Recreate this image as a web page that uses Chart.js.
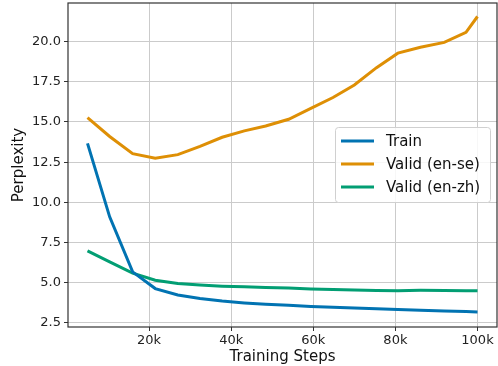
<!DOCTYPE html>
<html>
<head>
<meta charset="utf-8">
<script src="https://cdn.jsdelivr.net/npm/chart.js@4/dist/chart.umd.min.js"></script>
<style>
  body { margin: 0; background: #fff; }
</style>
</head>
<body>
<canvas id="myChart" width="498" height="366"></canvas>
<script>
// training steps (x) where each curve was sampled
const steps = [5000, 10400, 16000, 21500, 27000, 32400, 37800, 43200, 48400, 54000,
               59400, 64800, 70000, 75400, 80600, 86100, 91900, 97200, 100000];
const trainPpl = [13.67, 9.1, 5.68, 4.64, 4.24, 4.02, 3.86, 3.75, 3.67, 3.6,
                  3.53, 3.48, 3.43, 3.38, 3.34, 3.29, 3.25, 3.21, 3.19];
const validEnSe = [15.27, 14.1, 13.03, 12.74, 12.97, 13.48, 14.05, 14.45, 14.75, 15.17,
                   15.85, 16.52, 17.3, 18.38, 19.28, 19.65, 19.95, 20.58, 21.56];
const validEnZh = [6.99, 6.3, 5.6, 5.16, 4.96, 4.86, 4.79, 4.75, 4.71, 4.67,
                   4.62, 4.58, 4.55, 4.52, 4.51, 4.53, 4.52, 4.51, 4.5];
const xTicks = [20000, 40000, 60000, 80000, 100000];
const yTicks = [2.5, 5.0, 7.5, 10.0, 12.5, 15.0, 17.5, 20.0];

const font = 'DejaVu Sans';

function toPoints(ys) {
  return ys.map((y, i) => ({ x: steps[i], y: y }));
}

// frame on all four sides, like matplotlib
const framePlugin = {
  id: 'frame',
  afterDraw(chart) {
    const a = chart.chartArea, ctx = chart.ctx;
    ctx.save();
    ctx.strokeStyle = '#333';
    ctx.lineWidth = 1.2;
    ctx.strokeRect(a.left, a.top, a.right - a.left, a.bottom - a.top);
    ctx.restore();
  }
};

// legend drawn inside the plot area
const legendPlugin = {
  id: 'insideLegend',
  afterDraw(chart) {
    const ctx = chart.ctx;
    const x0 = 335, y0 = 127, w = 155, h = 75;
    ctx.save();
    ctx.fillStyle = 'rgba(255,255,255,0.85)';
    ctx.strokeStyle = '#d0d0d0';
    ctx.lineWidth = 1;
    ctx.beginPath();
    ctx.roundRect(x0 + 0.5, y0 + 0.5, w, h, 3);
    ctx.fill();
    ctx.stroke();
    ctx.font = '15px "' + font + '"';
    ctx.textBaseline = 'middle';
    chart.data.datasets.forEach((ds, i) => {
      const y = y0 + 14 + i * 23;
      ctx.strokeStyle = ds.borderColor;
      ctx.lineWidth = 3;
      ctx.beginPath();
      ctx.moveTo(341, y);
      ctx.lineTo(374, y);
      ctx.stroke();
      ctx.fillStyle = '#111';
      ctx.fillText(ds.label, 386, y + 1);
    });
    ctx.restore();
  }
};

const ctx = document.getElementById('myChart').getContext('2d');
new Chart(ctx, {
  type: 'line',
  data: {
    datasets: [
      { label: 'Train', data: toPoints(trainPpl), borderColor: '#0173B2' },
      { label: 'Valid (en-se)', data: toPoints(validEnSe), borderColor: '#DE8F05' },
      { label: 'Valid (en-zh)', data: toPoints(validEnZh), borderColor: '#029E73' }
    ]
  },
  options: {
    responsive: false,
    animation: false,
    layout: { padding: { top: 3, right: 1, left: 0, bottom: 0 } },
    elements: {
      line: { borderWidth: 3, tension: 0, fill: false },
      point: { radius: 0 }
    },
    plugins: {
      legend: { display: false },
      tooltip: { enabled: false }
    },
    scales: {
      x: {
        type: 'linear',
        min: 250,
        max: 104750,
        afterBuildTicks: s => { s.ticks = xTicks.map(v => ({ value: v })); },
        afterFit: s => { s.height = 39; s.paddingLeft = 0; s.paddingRight = 0; },
        ticks: {
          color: '#222',
          font: { family: font, size: 13 },
          padding: 2,
          maxRotation: 0,
          callback: v => (v / 1000) + 'k'
        },
        grid: { color: '#cbcbcb', lineWidth: 1, tickLength: 4, tickColor: '#333' },
        border: { display: false },
        title: {
          display: true,
          text: 'Training Steps',
          color: '#111',
          font: { family: font, size: 15 },
          padding: { top: 0, bottom: 0 }
        }
      },
      y: {
        min: 2.25,
        max: 22.4,
        afterBuildTicks: s => { s.ticks = yTicks.map(v => ({ value: v })); },
        afterFit: s => { s.width = 68; s.paddingTop = 0; s.paddingBottom = 0; },
        ticks: {
          color: '#222',
          font: { family: font, size: 13 },
          padding: 3,
          callback: v => v.toFixed(1)
        },
        grid: { color: '#cbcbcb', lineWidth: 1, tickLength: 4, tickColor: '#333' },
        border: { display: false },
        title: {
          display: true,
          text: 'Perplexity',
          color: '#111',
          font: { family: font, size: 15 },
          padding: { top: 10, bottom: 4 }
        }
      }
    }
  },
  plugins: [framePlugin, legendPlugin]
});
</script>
</body>
</html>
